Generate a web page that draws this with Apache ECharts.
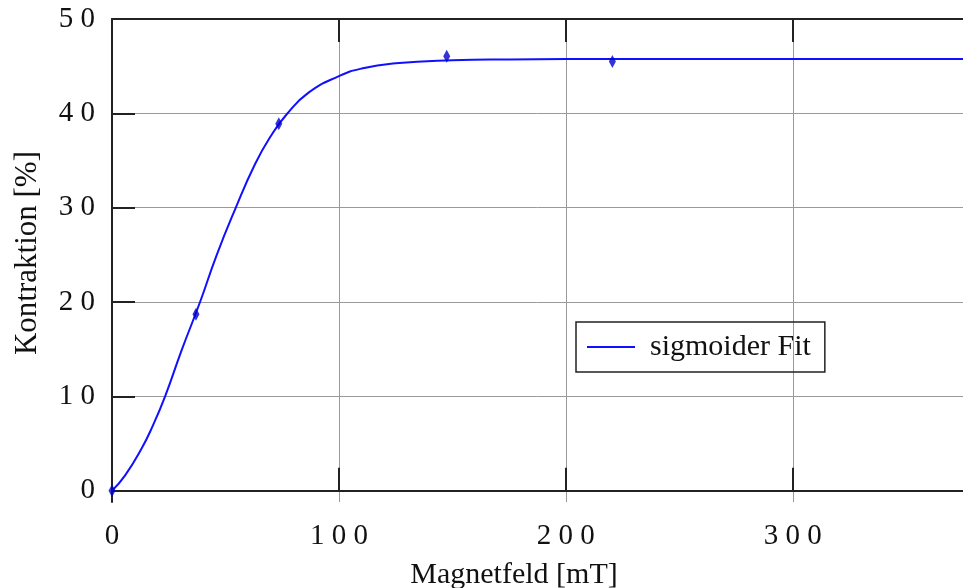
<!DOCTYPE html>
<html>
<head>
<meta charset="utf-8">
<script src="https://cdn.jsdelivr.net/npm/echarts@6/dist/echarts.min.js"></script>
<style>
html,body{margin:0;padding:0;background:#fff;}
#chart{width:963px;height:588px;}
</style>
</head>
<body>
<div id="chart"></div>
<script>
// Measured data points
const dataX = [0, 37, 73.5, 147.5, 220.5];
const dataY = [0, 18.7, 38.9, 46.05, 45.5];
// Sigmoid fit curve
const fitX = [0, 5.7, 13.1, 18, 23.4, 30.7, 38.8, 46, 54.2, 63, 70, 77, 86.6, 100, 110, 125, 150, 175, 200, 250, 300, 375];
const fitY = [0, 1.6, 4.5, 6.9, 10, 14.9, 20, 24.9, 29.8, 34.6, 37.6, 39.9, 42.2, 43.95, 44.75, 45.3, 45.62, 45.72, 45.75, 45.77, 45.77, 45.77];
// Tick values
const xTicks = [0, 100, 200, 300];
const yTicks = [0, 10, 20, 30, 40, 50];
const seriesName = 'sigmoider Fit';
const xTitle = 'Magnetfeld [mT]';
const yTitle = 'Kontraktion [%]';

const font = 'Liberation Serif, Times New Roman, serif';
const spaced = v => String(v).split('').join('\u2005');

const chart = echarts.init(document.getElementById('chart'), null, {renderer: 'canvas'});
const axisLine = {show: true, lineStyle: {color: '#222', width: 2}};
const tick = {show: true, inside: true, length: 23, lineStyle: {color: '#222', width: 2}};
const split = {show: true, lineStyle: {color: '#999', width: 1}};

chart.setOption({
  animation: false,
  backgroundColor: '#fff',
  grid: {left: 112, top: 19, right: 0, bottom: 86, containLabel: false},
  xAxis: [{
    type: 'value', position: 'bottom', min: 0, max: 375,
    axisLine: axisLine,
    axisTick: Object.assign({customValues: xTicks}, tick),
    axisLabel: {customValues: xTicks, formatter: spaced, fontFamily: font, fontSize: 29, color: '#111', margin: 20},
    splitLine: split
  }, {
    type: 'value', position: 'top', min: 0, max: 375,
    axisLine: axisLine,
    axisTick: Object.assign({customValues: xTicks}, tick),
    axisLabel: {show: false},
    splitLine: {show: false}
  }],
  yAxis: [{
    type: 'value', position: 'left', min: -1.2, max: 50,
    axisLine: axisLine,
    axisTick: Object.assign({customValues: yTicks}, tick),
    axisLabel: {customValues: yTicks, formatter: spaced, fontFamily: font, fontSize: 29, color: '#111', margin: 17},
    splitLine: split
  }],
  legend: {
    left: 576, top: 322,
    orient: 'horizontal',
    data: [{name: seriesName, icon: 'rect'}],
    itemWidth: 48, itemHeight: 2,
    itemGap: 0,
    padding: [10, 14, 10, 11],
    borderColor: '#222', borderWidth: 1.5,
    textStyle: {fontFamily: font, fontSize: 30, color: '#111', padding: [0, 0, 0, 10]},
    selectedMode: false
  },
  graphic: [
    {type: 'text', x: 514, y: 575, style: {text: xTitle, font: '30px ' + font, fill: '#111', textAlign: 'center', textVerticalAlign: 'middle'}},
    {type: 'text', rotation: Math.PI / 2, x: 28, y: 253, style: {text: yTitle, font: '31px ' + font, fill: '#111', textAlign: 'center', textVerticalAlign: 'middle'}}
  ],
  series: [{
    name: seriesName, type: 'line',
    data: fitX.map((x, i) => [x, fitY[i]]),
    smooth: 0.5,
    showSymbol: false, symbol: 'none',
    lineStyle: {color: '#1010ff', width: 2},
    itemStyle: {color: '#1010ff'},
    z: 3
  }, {
    name: 'Messwerte', type: 'scatter',
    data: dataX.map((x, i) => [x, dataY[i]]),
    symbol: 'diamond', symbolSize: [7, 13],
    itemStyle: {color: '#0000cc'},
    z: 4
  }]
});
</script>
</body>
</html>
